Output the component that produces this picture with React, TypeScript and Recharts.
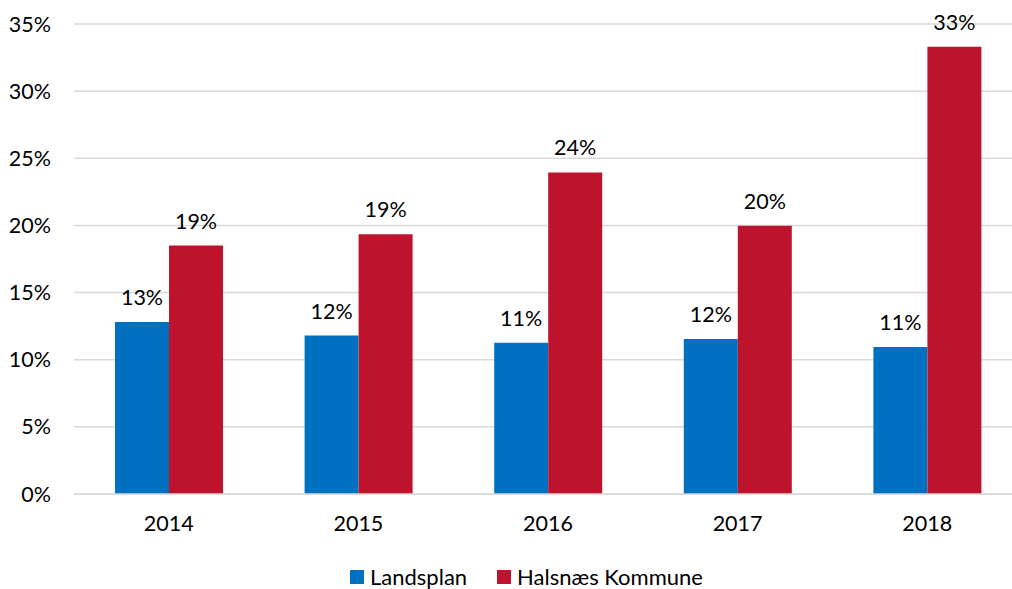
import React from "react";
import { BarChart, Bar, XAxis, YAxis, CartesianGrid, Legend, LabelList } from "recharts";

const years = ["2014", "2015", "2016", "2017", "2018"];
const landsplan = [12.8, 11.8, 11.27, 11.55, 10.95];
const halsnaes = [18.5, 19.35, 23.95, 19.98, 33.3];
const yTicks = [0, 5, 10, 15, 20, 25, 30, 35];

const BLUE = "#0070C0";
const RED = "#BE132D";
const FONT = "Lato, 'Open Sans', sans-serif";
const FS = 21.5;

const data = years.map((y, i) => ({ year: y, landsplan: landsplan[i], halsnaes: halsnaes[i] }));

const LegendContent = () => (
  <div style={{ display: "flex", alignItems: "center", fontFamily: FONT, fontSize: 22, lineHeight: "22px", color: "#000", paddingTop: 7, whiteSpace: "nowrap" }}>
    <span style={{ width: 14, height: 14, background: BLUE, display: "inline-block", marginRight: 6 }} />
    <span style={{ marginRight: 30 }}>Landsplan</span>
    <span style={{ width: 14, height: 14, background: RED, display: "inline-block", marginRight: 6 }} />
    <span>Halsnæs Kommune</span>
  </div>
);

export default function App() {
  return (
    <div style={{ position: "fixed", left: 0, top: 0, width: 1012, height: 589, overflow: "hidden", background: "#fff" }}>
      <BarChart
        width={1040}
        height={589}
        data={data}
        margin={{ top: 24, right: 18, bottom: 0, left: 0 }}
        barGap={0}
        barCategoryGap="21.5%"
      >
        <CartesianGrid vertical={false} stroke="#D9D9D9" strokeWidth={1.5} />
        <XAxis
          dataKey="year"
          height={65}
          tickLine={false}
          tickSize={0}
          axisLine={{ stroke: "#D9D9D9", strokeWidth: 1.5 }}
          tickMargin={22}
          tick={{ fontFamily: FONT, fontSize: FS, fill: "#000" }}
        />
        <YAxis
          width={74}
          domain={[0, 35]}
          ticks={yTicks}
          interval={0}
          tickFormatter={(v) => `${v}%`}
          tickLine={false}
          tickSize={0}
          axisLine={false}
          tickMargin={23}
          tick={{ fontFamily: FONT, fontSize: FS, fill: "#000" }}
        />
        <Legend
          verticalAlign="bottom"
          height={30}
          content={<LegendContent />}
          wrapperStyle={{ left: 350, width: "auto", bottom: 0, height: 30 }}
        />
        <Bar dataKey="landsplan" name="Landsplan" fill={BLUE} barSize={54} isAnimationActive={false}>
          <LabelList
            dataKey="landsplan"
            position="top"
            offset={17}
            formatter={(v: number) => `${Math.round(v)}%`}
            style={{ fontFamily: FONT, fontSize: FS, fill: "#000" }}
          />
        </Bar>
        <Bar dataKey="halsnaes" name="Halsnæs Kommune" fill={RED} barSize={54} isAnimationActive={false}>
          <LabelList
            dataKey="halsnaes"
            position="top"
            offset={17}
            formatter={(v: number) => `${Math.round(v)}%`}
            style={{ fontFamily: FONT, fontSize: FS, fill: "#000" }}
          />
        </Bar>
      </BarChart>
    </div>
  );
}
